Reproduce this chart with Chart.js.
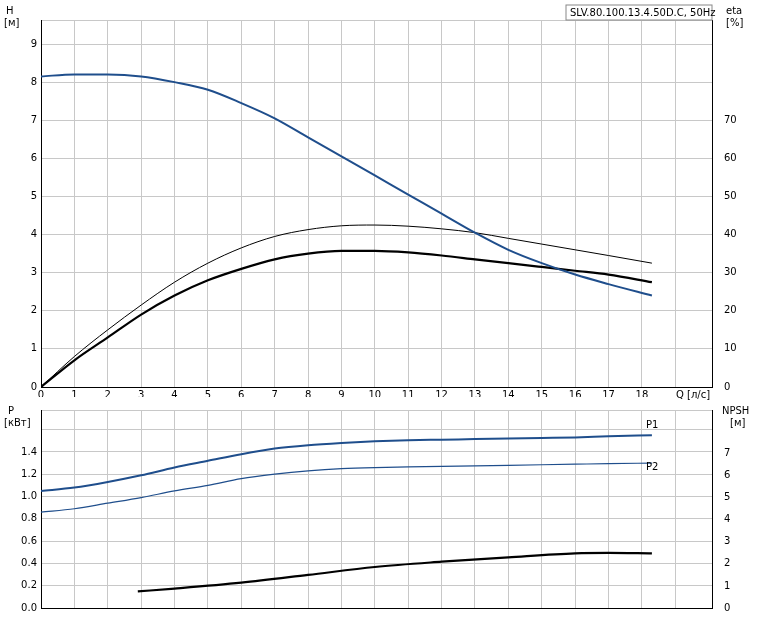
<!DOCTYPE html>
<html><head><meta charset="utf-8">
<script src="https://cdn.jsdelivr.net/npm/chart.js@4"></script>
<style>body{margin:0;background:#fff}#a{position:absolute;left:0;top:0}#b{position:absolute;left:0;top:400px}</style>
</head><body>
<div id="a" style="width:759px;height:400px"><canvas id="c1"></canvas></div>
<div id="b" style="width:759px;height:220px"><canvas id="c2"></canvas></div>
<script>
const qH=[0,1,2,3,4,5,6,7,8,9,10,11,12,13,14,15,16,17,18.3];
const H=[8.15,8.2,8.2,8.15,8.0,7.8,7.45,7.05,6.55,6.05,5.55,5.05,4.55,4.05,3.6,3.25,2.95,2.7,2.4];
const etaThin=[0,8,15,21.5,27.5,32.5,36.5,39.5,41.3,42.3,42.5,42.2,41.5,40.5,39,37.5,36,34.5,32.5];
const etaThick=[0,7,13,19,24,28,31,33.5,35,35.7,35.7,35.3,34.5,33.5,32.5,31.5,30.5,29.5,27.5];
const qP=[0,1,2,3,4,5,6,7,8,9,10,11,12,13,14,15,16,17,18.3];
const P1=[1.05,1.08,1.13,1.19,1.26,1.32,1.38,1.43,1.46,1.48,1.495,1.505,1.51,1.515,1.52,1.525,1.53,1.54,1.55];
const P2=[0.86,0.89,0.94,0.99,1.05,1.1,1.16,1.2,1.23,1.25,1.26,1.265,1.27,1.275,1.28,1.285,1.29,1.295,1.3];
const qN=[2.9,4,6,8,10,12,14,16,17,18.3];
const NPSH=[0.75,0.88,1.15,1.5,1.86,2.1,2.3,2.48,2.5,2.48];
const pts=(xs,ys)=>xs.map((x,i)=>({x,y:ys[i]}));
const grid={color:'#c8c8c8',drawTicks:false};
const tickF={font:{family:'DejaVu Sans',size:10},color:'#000',padding:4};
function ds(d,col,w,ax){return {data:d,borderColor:col,borderWidth:w,pointRadius:0,cubicInterpolationMode:'monotone',fill:false,yAxisID:ax};}
function textPlugin(items){return {id:'t',afterDraw(c){const g=c.ctx;g.save();g.fillStyle='#000';g.font='10px DejaVu Sans';
 items(c,g);g.restore();}};}
new Chart(document.getElementById('c1'),{type:'line',
 data:{datasets:[ds(pts(qH,H),'#1f4e8c',2,'y'),ds(pts(qH,etaThin),'#000',1,'y2'),ds(pts(qH,etaThick),'#000',2.2,'y2')]},
 options:{responsive:true,maintainAspectRatio:false,animation:false,layout:{padding:{top:20,bottom:3}},
  plugins:{legend:{display:false},tooltip:{enabled:false}},
  scales:{
   x:{type:'linear',min:0,max:20.1,grid:grid,border:{color:'#000'},ticks:{...tickF,stepSize:1,padding:2,callback:v=>v<=18?v:''},afterFit:s=>{s.height=10}},
   y:{min:0,max:9.63,grid:grid,border:{color:'#000'},ticks:{...tickF,stepSize:1,callback:v=>Number.isInteger(v)?v:''},afterFit:s=>{s.width=41}},
   y2:{position:'right',min:0,max:96.3,grid:{display:false},border:{color:'#000'},ticks:{...tickF,stepSize:10,callback:v=>v<=70?v:''},afterFit:s=>{s.width=47}}
  }},
 plugins:[textPlugin((c,g)=>{g.fillText('H',6,14);g.fillText('[м]',4,26);g.fillText('eta',726,14);g.fillText('[%]',726,26);
  g.fillText('Q [л/с]',676,398);g.strokeStyle='#888';g.strokeRect(566,5,146,15);g.fillText('SLV.80.100.13.4.50D.C, 50Hz',570,16);})]
});
new Chart(document.getElementById('c2'),{type:'line',
 data:{datasets:[ds(pts(qP,P1),'#1f4e8c',2,'y'),ds(pts(qP,P2),'#1f4e8c',1.2,'y'),ds(pts(qN,NPSH),'#000',2.2,'y2')]},
 options:{responsive:true,maintainAspectRatio:false,animation:false,layout:{padding:{top:5,bottom:0}},
  plugins:{legend:{display:false},tooltip:{enabled:false}},
  scales:{
   x:{type:'linear',min:0,max:20.1,grid:grid,border:{color:'#000'},ticks:{display:false,stepSize:1},afterFit:s=>{s.height=12}},
   y:{min:0,max:1.776,grid:grid,border:{color:'#000'},ticks:{...tickF,stepSize:0.2,callback:v=>v<=1.41?v.toFixed(1):''},afterFit:s=>{s.width=41}},
   y2:{position:'right',min:0,max:8.98,grid:{display:false},border:{color:'#000'},ticks:{...tickF,stepSize:1,callback:v=>v<=7?v:''},afterFit:s=>{s.width=47}}
  }},
 plugins:[textPlugin((c,g)=>{g.fillText('P',8,14);g.fillText('[кВт]',4,26);g.fillText('NPSH',722,14);g.fillText('[м]',730,26);
  g.fillText('P1',646,28);g.fillText('P2',646,70);})]
});
</script></body></html>
